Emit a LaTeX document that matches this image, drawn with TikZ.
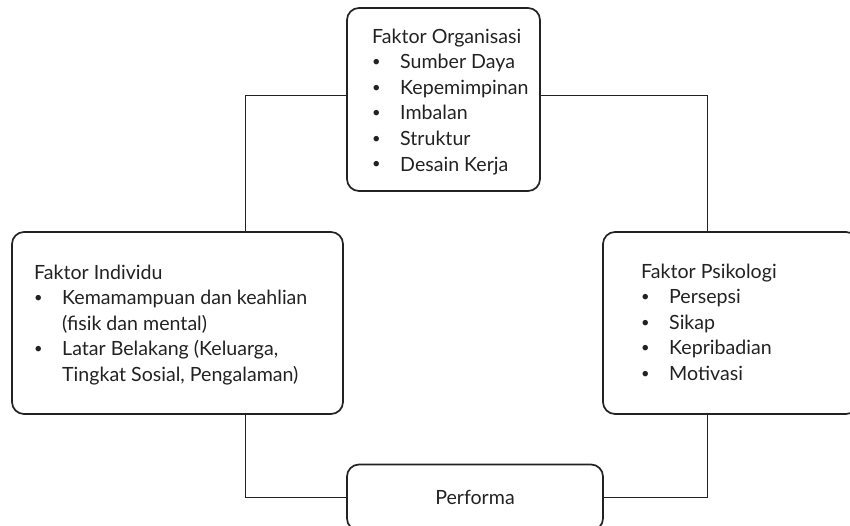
\documentclass[tikz,border=0pt]{standalone}
\usepackage{fontspec}
\setmainfont{Lato}
\definecolor{ink}{HTML}{222222}
\newcommand{\smallbullet}{\raisebox{0.22ex}{\scalebox{0.75}{\textbullet}}}
\newcommand{\bitem}[1]{\makebox[28pt][l]{\smallbullet}#1}
\newcommand{\bcont}[1]{\hspace*{28pt}#1}
\begin{document}
\begin{tikzpicture}[x=1pt,y=-1pt,
  box/.style={draw=ink, line width=1.7pt, rounded corners=12pt, inner sep=0pt},
  wire/.style={draw=ink, line width=0.8pt},
  txt/.style={anchor=base west, align=left, inner sep=0pt, text=ink,
    font=\fontsize{19.6}{25.6}\selectfont}]
\useasboundingbox (0,0) rectangle (850,525);

% factor boxes
\node[box, minimum width=193pt, minimum height=183pt] (org) at (443.5,99.5) {};
\node[box, minimum width=331pt, minimum height=182pt] (ind) at (177.5,323) {};
\node[box, minimum width=255pt, minimum height=182pt] (psi) at (730.5,323) {};
\node[box, minimum width=256pt, minimum height=66pt, text=ink,
  font=\fontsize{19.6}{25.6}\selectfont] (perf) at (475,497.5) {Performa};

% box contents (anchored at the baseline of the last line)
\node[txt] (orgtxt) at (372,171) {Faktor Organisasi\\
  \bitem{Sumber Daya}\\ \bitem{Kepemimpinan}\\ \bitem{Imbalan}\\
  \bitem{Struktur}\\ \bitem{Desain Kerja}};
\node[txt] (indtxt) at (34,381.4) {Faktor Individu\\
  \bitem{Kemamampuan dan keahlian}\\ \bcont{(fisik dan mental)}\\
  \bitem{Latar Belakang (Keluarga,}\\ \bcont{Tingkat Sosial, Pengalaman)}};
\node[txt] (psitxt) at (641,380.4) {Faktor Psikologi\\
  \bitem{Persepsi}\\ \bitem{Sikap}\\ \bitem{Kepribadian}\\ \bitem{Motivasi}};

% connectors
\draw[wire] ([yshift=4.5pt]org.west) -| ([xshift=67.5pt]ind.north);
\draw[wire] ([yshift=4.5pt]org.east) -| ([xshift=-23pt]psi.north);
\draw[wire] ([xshift=67.5pt]ind.south) |- (perf.west);
\draw[wire] (perf.east) -| ([xshift=-23pt]psi.south);
\end{tikzpicture}
\end{document}
